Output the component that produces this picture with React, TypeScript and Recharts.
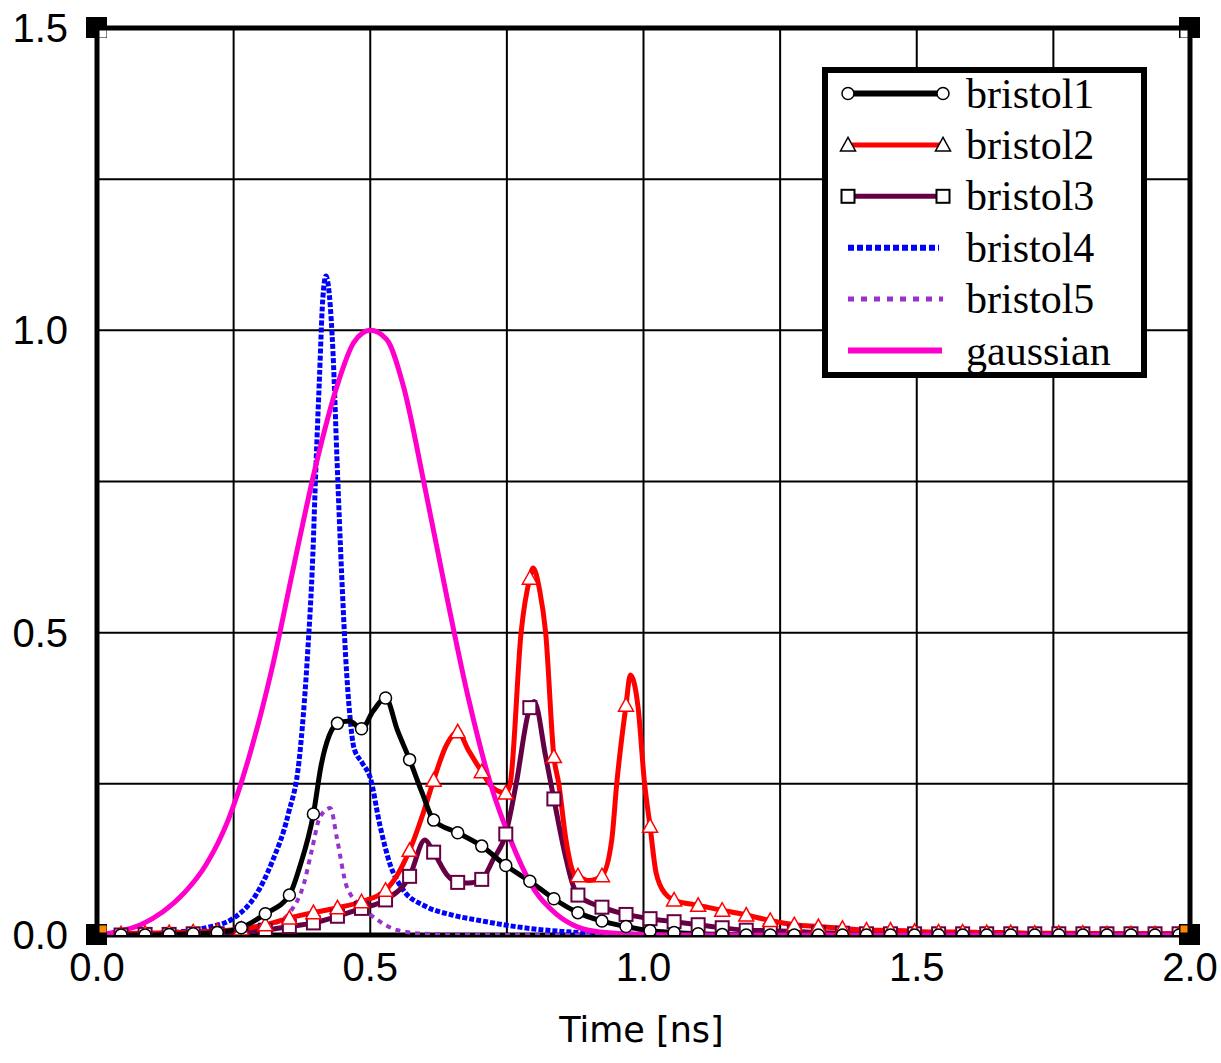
import React from 'react';
import { ComposedChart, Line, XAxis, YAxis, CartesianGrid, ReferenceArea, ReferenceDot } from 'recharts';

type Pt = { x: number; y: number; m: boolean };

// marker positions (ns) shared by the marked series
const markerTimes: number[] = Array.from({ length: 46 }, (_, k) => Math.round(k * 44) / 1000);

const xTicks = [0, 0.25, 0.5, 0.75, 1, 1.25, 1.5, 1.75, 2];
const yTicks = [0, 0.25, 0.5, 0.75, 1, 1.25, 1.5];
const labeledX = [0, 0.5, 1, 1.5, 2];
const labeledY = [0, 0.5, 1, 1.5];

// bristol1 values at the marker times
const bristol1Markers = [
  0, 0, 0, 0.001, 0.002, 0.004, 0.012, 0.035, 0.066, 0.2,
  0.35, 0.341, 0.392, 0.29, 0.19, 0.169, 0.147, 0.115, 0.089, 0.06,
  0.037, 0.023, 0.014, 0.007, 0.004, 0.002, 0.001, 0, 0, 0,
  0, 0, 0, 0, 0, 0, 0, 0, 0, 0,
  0, 0, 0, 0, 0, 0,
];
const bristol1Detail: [number, number][] = [
  [0.37, 0.11], [0.41, 0.28], [0.425, 0.33], [0.462, 0.354], [0.505, 0.37],
  [0.55, 0.338], [0.595, 0.235], [2.0, 0],
];

const bristol2Markers = [
  0, 0.002, 0.003, 0.004, 0.005, 0.007, 0.01, 0.017, 0.028, 0.037,
  0.045, 0.055, 0.074, 0.14, 0.256, 0.336, 0.27, 0.235, 0.59, 0.295,
  0.098, 0.098, 0.38, 0.18, 0.058, 0.049, 0.041, 0.033, 0.024, 0.017,
  0.014, 0.011, 0.008, 0.008, 0.006, 0.005, 0.005, 0.004, 0.004, 0.003,
  0.003, 0.003, 0.002, 0.002, 0.002, 0.002,
];
const bristol2Detail: [number, number][] = [
  [0.55, 0.1], [0.6, 0.21], [0.64, 0.315], [0.68, 0.305], [0.725, 0.243],
  [0.756, 0.25], [0.776, 0.5], [0.798, 0.607], [0.81, 0.57], [0.821, 0.5],
  [0.845, 0.25], [0.858, 0.158], [0.872, 0.103], [0.9, 0.09], [0.942, 0.158],
  [0.951, 0.25], [0.976, 0.43], [0.99, 0.377], [1.002, 0.25], [1.023, 0.103],
  [1.04, 0.068], [2.0, 0.002],
];

const bristol3Markers = [
  0, 0, 0.001, 0.001, 0.002, 0.002, 0.004, 0.008, 0.014, 0.02,
  0.031, 0.044, 0.058, 0.097, 0.137, 0.087, 0.092, 0.167, 0.376, 0.225,
  0.066, 0.046, 0.034, 0.027, 0.022, 0.017, 0.012, 0.008, 0.007, 0.006,
  0.004, 0.003, 0.002, 0.002, 0.002, 0.002, 0.002, 0.002, 0.002, 0.002,
  0.002, 0.002, 0.002, 0.002, 0.002, 0.002,
];
const bristol3Detail: [number, number][] = [
  [0.6, 0.157], [0.64, 0.1], [0.68, 0.086], [0.725, 0.125], [0.767, 0.25],
  [0.8, 0.386], [0.821, 0.295], [0.857, 0.131], [0.87, 0.085], [2.0, 0.002],
];

const bristol4Values: [number, number][] = [
  [0, 0], [0.1, 0.002], [0.15, 0.005], [0.2, 0.012], [0.25, 0.028], [0.29, 0.065],
  [0.32, 0.12], [0.35, 0.2], [0.37, 0.29], [0.385, 0.46], [0.395, 0.63], [0.4, 0.76],
  [0.407, 0.92], [0.413, 1.05], [0.419, 1.09], [0.425, 1.06], [0.432, 0.96],
  [0.439, 0.79], [0.448, 0.59], [0.455, 0.46], [0.463, 0.36], [0.47, 0.31],
  [0.485, 0.285], [0.5, 0.26], [0.518, 0.18], [0.537, 0.115], [0.56, 0.075],
  [0.6, 0.048], [0.65, 0.033], [0.7, 0.024], [0.75, 0.016], [0.8, 0.01],
  [0.85, 0.006], [0.9, 0.003], [1.0, 0.001], [1.1, 0], [2.0, 0],
];

const bristol5Values: [number, number][] = [
  [0, 0], [0.2, 0.001], [0.27, 0.006], [0.32, 0.017], [0.355, 0.04], [0.378, 0.083],
  [0.393, 0.14], [0.408, 0.195], [0.427, 0.21], [0.439, 0.16], [0.457, 0.08],
  [0.488, 0.044], [0.518, 0.022], [0.55, 0.008], [0.6, 0.002], [0.7, 0], [2.0, 0],
];

const gaussianValues: [number, number][] = [
  [0, 0], [0.04, 0.006], [0.08, 0.017], [0.12, 0.038], [0.16, 0.07], [0.2, 0.117],
  [0.24, 0.19], [0.28, 0.3], [0.32, 0.44], [0.36, 0.61], [0.4, 0.775], [0.44, 0.91],
  [0.47, 0.98], [0.5, 1.0], [0.53, 0.985], [0.56, 0.91], [0.6, 0.74], [0.64, 0.56],
  [0.68, 0.39], [0.72, 0.25], [0.76, 0.15], [0.8, 0.075], [0.84, 0.035],
  [0.88, 0.013], [0.92, 0.005], [1.0, 0.001], [1.1, 0], [2.0, 0],
];

const corners: [number, number][] = [[0, 0], [2, 0], [0, 1.5], [2, 1.5]];

const C1 = '#000000';
const C2 = '#ff0000';
const C3 = '#660044';
const C4 = '#0000ff';
const C5 = '#9932cc';
const CG = '#ff00cc';

function withMarkers(markers: number[], detail: [number, number][]): Pt[] {
  const pts: Pt[] = markers.map((y, i) => ({ x: markerTimes[i], y, m: true }));
  detail.forEach(([x, y]) => pts.push({ x, y, m: false }));
  return pts.sort((a, b) => a.x - b.x);
}
function plain(v: [number, number][]): Pt[] {
  return v.map(([x, y]) => ({ x, y, m: false }));
}

const b1 = withMarkers(bristol1Markers, bristol1Detail);
const b2 = withMarkers(bristol2Markers, bristol2Detail);
const b3 = withMarkers(bristol3Markers, bristol3Detail);
const b4 = plain(bristol4Values);
const b5 = plain(bristol5Values);
const gs = plain(gaussianValues);

type Kind = 'circle' | 'triangle' | 'square';

function Marker({ kind, cx, cy, color }: { kind: Kind; cx: number; cy: number; color: string }) {
  if (kind === 'circle') return <circle cx={cx} cy={cy} r={6} fill="#fff" stroke={color} strokeWidth={1.5} />;
  if (kind === 'triangle')
    return (
      <polygon
        points={`${cx},${cy - 7.5} ${cx - 7.5},${cy + 6} ${cx + 7.5},${cy + 6}`}
        fill="#fff"
        stroke={color}
        strokeWidth={1.5}
      />
    );
  return <rect x={cx - 6.5} y={cy - 6.5} width={13} height={13} fill="#fff" stroke={color} strokeWidth={2} />;
}

const makeDot = (kind: Kind, color: string) => (props: any) => {
  const { cx, cy, payload, index } = props;
  if (!payload || !payload.m || cx == null || cy == null) return <g key={`n${index}`} />;
  return (
    <g key={`d${index}`}>
      <Marker kind={kind} cx={cx} cy={cy} color={color} />
    </g>
  );
};

const XTick = (props: any) => {
  const { x, y, payload } = props;
  const v = payload.value;
  if (!labeledX.some((t) => Math.abs(t - v) < 1e-9)) return <g />;
  return (
    <text x={x} y={y + 46} textAnchor="middle" fontFamily="Liberation Sans, Arial, sans-serif" fontSize={40} fill="#000">
      {v.toFixed(1)}
    </text>
  );
};

const YTick = (props: any) => {
  const { x, y, payload } = props;
  const v = payload.value;
  if (!labeledY.some((t) => Math.abs(t - v) < 1e-9)) return <g />;
  return (
    <text x={x - 29} y={y + 14} textAnchor="end" fontFamily="Liberation Sans, Arial, sans-serif" fontSize={40} fill="#000">
      {v.toFixed(1)}
    </text>
  );
};

const AxisTitle = (props: any) => {
  const vb = props.viewBox || { x: 97, y: 935, width: 1093, height: 128 };
  return (
    <text
      x={vb.x + vb.width / 2 - 2}
      y={vb.y + 107}
      textAnchor="middle"
      fontFamily="DejaVu Sans, sans-serif"
      fontSize={35}
      fill="#000"
    >
      Time [ns]
    </text>
  );
};

const CornerShape = (isBottom: boolean, isRight: boolean) => (props: any) => {
  const { cx, cy } = props;
  if (cx == null) return <g />;
  const ix = isRight ? cx - 9.5 : cx + 2.5;
  const iy = isBottom ? cy - 9.5 : cy + 2.5;
  return (
    <g>
      <rect x={cx - 11} y={cy - 11} width={21} height={21} fill="#000" />
      <rect x={ix} y={iy} width={7} height={7} fill={isBottom ? '#ff8800' : '#fff'} />
    </g>
  );
};

const legendItems: { name: string; color: string; width: number; dash?: string; marker?: Kind; x2: number }[] = [
  { name: 'bristol1', color: C1, width: 6, marker: 'circle', x2: 121 },
  { name: 'bristol2', color: C2, width: 5, marker: 'triangle', x2: 121 },
  { name: 'bristol3', color: C3, width: 5, marker: 'square', x2: 121 },
  { name: 'bristol4', color: C4, width: 6, dash: '6 3', x2: 117 },
  { name: 'bristol5', color: C5, width: 5, dash: '6 7', x2: 121 },
  { name: 'gaussian', color: CG, width: 6, x2: 120 },
];

function LegendBox() {
  return (
    <svg width={325} height={311} style={{ position: 'absolute', left: 822, top: 67 }}>
      <rect x={3} y={3} width={319} height={305} fill="#fff" stroke="#000" strokeWidth={6} />
      {legendItems.map((it, i) => {
        const cy = 26.5 + i * 51.4;
        return (
          <g key={it.name}>
            <line x1={26} y1={cy} x2={it.x2} y2={cy} stroke={it.color} strokeWidth={it.width} strokeDasharray={it.dash} />
            {it.marker && <Marker kind={it.marker} cx={26} cy={cy} color="#000" />}
            {it.marker && <Marker kind={it.marker} cx={121} cy={cy} color="#000" />}
            <text x={144} y={cy + 14} fontFamily="Liberation Serif, Times New Roman, serif" fontSize={42} fill="#000">
              {it.name}
            </text>
          </g>
        );
      })}
    </svg>
  );
}

export default function App() {
  return (
    <div style={{ position: 'absolute', left: 0, top: 0, width: 1221, height: 1063, overflow: 'visible' }}>
      <style>{'html,body{margin:0;padding:0;overflow:hidden;}'}</style>
      <ComposedChart width={1221} height={1063} margin={{ top: 28, right: 31, left: 0, bottom: 0 }} style={{ overflow: 'visible' }}>
        <CartesianGrid stroke="#000" strokeWidth={2} />
        <XAxis
          dataKey="x"
          type="number"
          domain={[0, 2]}
          ticks={xTicks}
          interval={0}
          height={128}
          tickSize={0}
          tickMargin={0}
          tickLine={false}
          axisLine={false}
          tick={XTick}
          label={<AxisTitle />}
          allowDataOverflow
        />
        <YAxis
          type="number"
          domain={[0, 1.5]}
          ticks={yTicks}
          interval={0}
          width={97}
          tickSize={0}
          tickMargin={0}
          tickLine={false}
          axisLine={false}
          tick={YTick}
          allowDataOverflow
        />
        <ReferenceArea x1={0} x2={2} y1={0} y2={1.5} fill="none" fillOpacity={0} stroke="#000" strokeWidth={5} />
        <Line data={b4} dataKey="y" type="monotone" stroke={C4} strokeWidth={5} strokeDasharray="5 2" dot={false} activeDot={false} isAnimationActive={false} />
        <Line data={b5} dataKey="y" type="monotone" stroke={C5} strokeWidth={4} strokeDasharray="5 5" dot={false} activeDot={false} isAnimationActive={false} />
        <Line data={b3} dataKey="y" type="monotone" stroke={C3} strokeWidth={5} dot={false} activeDot={false} isAnimationActive={false} />
        <Line data={b2} dataKey="y" type="monotone" stroke={C2} strokeWidth={5} dot={false} activeDot={false} isAnimationActive={false} />
        <Line data={b1} dataKey="y" type="monotone" stroke={C1} strokeWidth={5} dot={false} activeDot={false} isAnimationActive={false} />
        <Line data={gs} dataKey="y" type="monotone" stroke={CG} strokeWidth={5} dot={false} activeDot={false} isAnimationActive={false} />
        <Line data={b3} dataKey="y" type="monotone" stroke="none" strokeWidth={0} dot={makeDot('square', C3)} activeDot={false} isAnimationActive={false} />
        <Line data={b2} dataKey="y" type="monotone" stroke="none" strokeWidth={0} dot={makeDot('triangle', C2)} activeDot={false} isAnimationActive={false} />
        <Line data={b1} dataKey="y" type="monotone" stroke="none" strokeWidth={0} dot={makeDot('circle', C1)} activeDot={false} isAnimationActive={false} />
        {corners.map(([cx, cy], i) => (
          <ReferenceDot key={i} x={cx} y={cy} r={10} shape={CornerShape(cy === 0, cx === 2)} />
        ))}
      </ComposedChart>
      <LegendBox />
    </div>
  );
}
